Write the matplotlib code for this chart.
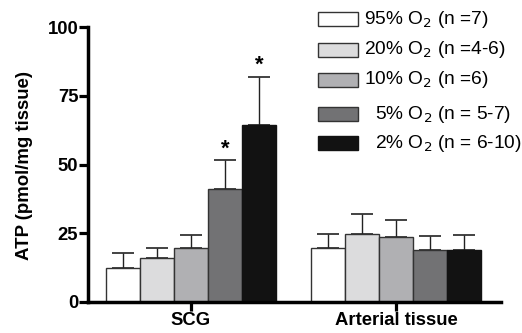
import matplotlib
matplotlib.use("Agg")
import matplotlib.pyplot as plt
from matplotlib.patches import Rectangle
import numpy as np

plt.rcParams['font.family'] = ['Liberation Sans', 'DejaVu Sans']

groups = ["SCG", "Arterial tissue"]
series = ["95% O$_2$ (n =7)", "20% O$_2$ (n =4-6)", "10% O$_2$ (n =6)",
          "5% O$_2$ (n = 5-7)", "2% O$_2$ (n = 6-10)"]
means_scg = [12.4, 16.1, 19.5, 41.0, 64.5]
err_scg = [5.4, 3.6, 5.0, 10.6, 17.5]
means_art = [19.6, 24.6, 23.8, 19.0, 19.0]
err_art = [5.2, 7.3, 6.0, 4.9, 5.5]
significant_scg = [False, False, False, True, True]
yticks = [0, 25, 50, 75, 100]
ylabel = "ATP (pmol/mg tissue)"

colors = ["#ffffff", "#dcdcdd", "#b0b0b3", "#727274", "#121212"]
edges = ["#333333", "#333333", "#333333", "#333333", "#121212"]

W, H = 522, 333
fig = plt.figure(figsize=(W / 100, H / 100), dpi=100)
ax = fig.add_axes([88 / W, 1 - 302 / H, (501 - 88) / W, (302 - 27) / H])

bw = 34 / 205
centers = np.arange(len(groups))
means = np.array([means_scg, means_art])
errs = np.array([err_scg, err_art])
for i in range(len(series)):
    xs = centers + (i - 2) * bw
    ax.bar(xs, means[:, i], width=bw, color=colors[i], edgecolor=edges[i],
           linewidth=1.0, zorder=2)
    ax.errorbar(xs, means[:, i], yerr=[np.zeros(2), errs[:, i]], fmt='none',
                ecolor='#222222', elinewidth=1.0, capsize=7.9, capthick=1.2, zorder=1)

for i, sig in enumerate(significant_scg):
    if sig:
        x = centers[0] + (i - 2) * bw
        ax.text(x, means_scg[i] + err_scg[i] + 0.3, "*", ha='center', va='bottom',
                fontsize=16, fontweight='bold')

ax.set_xlim(-0.502, 1.512)
ax.set_ylim(0, 100)
ax.set_yticks(yticks)
ax.set_yticklabels([str(t) for t in yticks], fontsize=13.3, fontweight='bold')
ax.set_xticks(centers)
ax.set_xticklabels(groups, fontsize=13.3, fontweight='bold')
ax.tick_params(axis='both', width=2.3, length=6.5, pad=0.5)
for s in ['top', 'right']:
    ax.spines[s].set_visible(False)
for s in ['left', 'bottom']:
    ax.spines[s].set_linewidth(2.5)
ax.set_ylabel(ylabel, fontsize=13.4, fontweight='bold')
ax.yaxis.set_label_coords((33 - 88) / 413, 0.495)

# legend drawn manually
row_y = [19, 50, 80, 114, 143]
text_x = [364, 364, 364, 375, 375]
for i, lab in enumerate(series):
    yc = row_y[i]
    h = 13.5
    rect = Rectangle((318 / W, 1 - (yc + h / 2) / H), 40 / W, h / H,
                     transform=fig.transFigure, facecolor=colors[i],
                     edgecolor='#333333' if i < 4 else colors[i], linewidth=1.0)
    fig.patches.append(rect)
    fig.text(text_x[i] / W, 1 - yc / H, lab, fontsize=13.8, va='center', ha='left')

fig.savefig("out.png", dpi=100)
